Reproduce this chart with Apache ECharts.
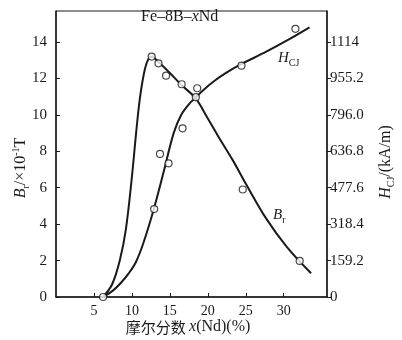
<!DOCTYPE html>
<html>
<head>
<meta charset="utf-8">
<script src="https://cdn.jsdelivr.net/npm/echarts@6/dist/echarts.min.js"></script>
<style>
  html, body { margin: 0; padding: 0; background: #fff; }
  #chart { width: 402px; height: 340px; }
</style>
</head>
<body>
<div id="chart"></div>
<script>
// Nd content x(Nd) in mol %
// Remanence B_r (×10^-1 T): fitted curve and measured points
const brCurve = [
  [6.2, 0], [7.4, 0.7], [8.4, 2.0], [9.2, 3.7], [10.0, 6.6], [10.6, 9.2],
  [11.05, 10.9], [11.6, 12.3], [12.1, 13.0], [12.6, 13.2], [13.5, 12.9],
  [15.0, 12.3], [16.5, 11.65], [18.4, 10.9], [20.0, 9.8], [21.4, 8.8],
  [23.3, 7.5], [25.1, 6.15], [27.7, 4.3], [30.4, 2.75], [33.6, 1.3]
];
const brPoints = [
  [12.6, 13.2], [13.5, 12.83], [14.5, 12.15], [16.55, 11.68],
  [18.6, 11.46], [24.6, 5.9], [32.1, 1.98]
];

// Intrinsic coercivity H_CJ (kA/m): fitted curve and measured points
const hcjCurve = [
  [6.2, 0], [7.5, 28], [8.5, 60], [9.5, 100], [10.5, 151], [11.5, 235],
  [12.9, 386], [14.2, 549], [15.5, 716], [16.5, 796], [17.5, 842],
  [18.4, 872], [19.5, 907], [20.8, 943], [22.4, 979], [24.2, 1014],
  [27.7, 1072], [30.5, 1122], [33.4, 1178]
];
const hcjPoints = [
  [6.2, 0], [12.93, 384], [13.7, 625], [14.83, 584], [16.67, 737],
  [18.42, 873], [24.43, 1011], [31.54, 1172]
];

// Axis ticks and labels
const xTicks = [5, 10, 15, 20, 25, 30];
const brTicks = [0, 2, 4, 6, 8, 10, 12, 14];
const hcjTicks = [0, 159.2, 318.4, 477.6, 636.8, 796.0, 955.2, 1114.4];
const hcjTickLabels = ['0', '159.2', '318.4', '477.6', '636.8', '796.0', '955.2', '1114'];

const SERIF = '"Liberation Serif", "Times New Roman", serif';
const INK = '#1a1a1a';
const BR_MAX = 15.7;
const HCJ_PER_BR = 79.6;

const chart = echarts.init(document.getElementById('chart'), null, { renderer: 'canvas' });

const axisBase = {
  axisLine: { show: true, lineStyle: { color: INK, width: 1.5 } },
  splitLine: { show: false },
  axisLabel: { color: INK, fontFamily: SERIF, fontSize: 15 }
};

const curveStyle = { color: INK, width: 2 };
const dotStyle = { color: '#fff', borderColor: INK, borderWidth: 1.2 };

chart.setOption({
  animation: false,
  backgroundColor: '#fff',
  grid: {
    left: 56, right: 75, top: 11, bottom: 43,
    show: true, borderColor: INK, borderWidth: 1, backgroundColor: 'transparent'
  },
  xAxis: {
    type: 'value', min: 0, max: 35.7, interval: 5,
    ...axisBase,
    axisTick: { show: true, inside: true, length: 4, customValues: xTicks, lineStyle: { color: INK } },
    axisLabel: { ...axisBase.axisLabel, fontSize: 14, margin: 7, customValues: xTicks }
  },
  yAxis: [
    {
      type: 'value', min: 0, max: BR_MAX, interval: 2,
      ...axisBase,
      axisTick: { show: true, inside: true, length: 4, customValues: brTicks, lineStyle: { color: INK } },
      axisLabel: { ...axisBase.axisLabel, margin: 9, customValues: brTicks }
    },
    {
      type: 'value', min: 0, max: BR_MAX * HCJ_PER_BR, position: 'right',
      ...axisBase,
      axisTick: { show: true, inside: false, length: 4, customValues: hcjTicks, lineStyle: { color: INK } },
      axisLabel: {
        ...axisBase.axisLabel, margin: 3, customValues: hcjTicks,
        formatter: v => {
          const i = hcjTicks.findIndex(t => Math.abs(t - v) < 0.01);
          return i >= 0 ? hcjTickLabels[i] : '';
        }
      }
    }
  ],
  series: [
    {
      name: 'Br', type: 'line', data: brCurve, smooth: 0.35,
      symbol: 'none', lineStyle: curveStyle, z: 2
    },
    {
      name: 'HCJ', type: 'line', yAxisIndex: 1, data: hcjCurve, smooth: 0.35,
      symbol: 'none', lineStyle: curveStyle, z: 2
    },
    {
      name: 'Br measured', type: 'scatter', data: brPoints, symbol: 'circle', symbolSize: 7,
      itemStyle: dotStyle, z: 3
    },
    {
      name: 'HCJ measured', type: 'scatter', yAxisIndex: 1, data: hcjPoints, symbol: 'circle', symbolSize: 7,
      itemStyle: dotStyle, z: 3
    }
  ],
  graphic: [
    {
      type: 'text', left: 141, top: 9,
      style: {
        text: '{n|Fe–8B–}{i|x}{n|Nd}',
        rich: {
          n: { fontFamily: SERIF, fontSize: 16, fill: INK },
          i: { fontFamily: SERIF, fontSize: 16, fontStyle: 'italic', fill: INK }
        }
      }
    },
    {
      type: 'text', left: 278, top: 51,
      style: {
        text: '{i|H}{s|CJ}',
        rich: {
          i: { fontFamily: SERIF, fontSize: 15, fontStyle: 'italic', fill: INK, lineHeight: 20, verticalAlign: 'middle' },
          s: { fontFamily: SERIF, fontSize: 10, fill: INK, lineHeight: 20, verticalAlign: 'bottom' }
        }
      }
    },
    {
      type: 'text', left: 273, top: 208,
      style: {
        text: '{i|B}{s|r}',
        rich: {
          i: { fontFamily: SERIF, fontSize: 15, fontStyle: 'italic', fill: INK, lineHeight: 20, verticalAlign: 'middle' },
          s: { fontFamily: SERIF, fontSize: 10, fill: INK, lineHeight: 20, verticalAlign: 'bottom' }
        }
      }
    },
    {
      type: 'text', x: 21, y: 168, rotation: Math.PI / 2,
      style: {
        text: '{i|B}{s|r}{n|/×10}{p|-1}{n|T}',
        align: 'center', verticalAlign: 'middle',
        rich: {
          i: { fontFamily: SERIF, fontSize: 16, fontStyle: 'italic', fill: INK, lineHeight: 20, verticalAlign: 'middle' },
          s: { fontFamily: SERIF, fontSize: 10, fill: INK, lineHeight: 20, verticalAlign: 'bottom' },
          n: { fontFamily: SERIF, fontSize: 16, fill: INK, lineHeight: 20, verticalAlign: 'middle' },
          p: { fontFamily: SERIF, fontSize: 10, fill: INK, lineHeight: 20, verticalAlign: 'top' }
        }
      }
    },
    {
      type: 'text', x: 386, y: 162, rotation: Math.PI / 2,
      style: {
        text: '{i|H}{s|CJ}{n|/(kA/m)}',
        align: 'center', verticalAlign: 'middle',
        rich: {
          i: { fontFamily: SERIF, fontSize: 16, fontStyle: 'italic', fill: INK, lineHeight: 20, verticalAlign: 'middle' },
          s: { fontFamily: SERIF, fontSize: 10, fill: INK, lineHeight: 20, verticalAlign: 'bottom' },
          n: { fontFamily: SERIF, fontSize: 16, fill: INK, lineHeight: 20, verticalAlign: 'middle' }
        }
      }
    },
    {
      type: 'text', x: 188, y: 327,
      style: {
        text: '{c|摩尔分数 }{i|x}{n|(Nd)(%)}',
        align: 'center', verticalAlign: 'middle',
        rich: {
          c: { fontFamily: '"Noto Sans CJK SC", sans-serif', fontSize: 15, fill: INK },
          i: { fontFamily: SERIF, fontSize: 16, fontStyle: 'italic', fill: INK },
          n: { fontFamily: SERIF, fontSize: 16, fill: INK }
        }
      }
    }
  ]
});
</script>
</body>
</html>
